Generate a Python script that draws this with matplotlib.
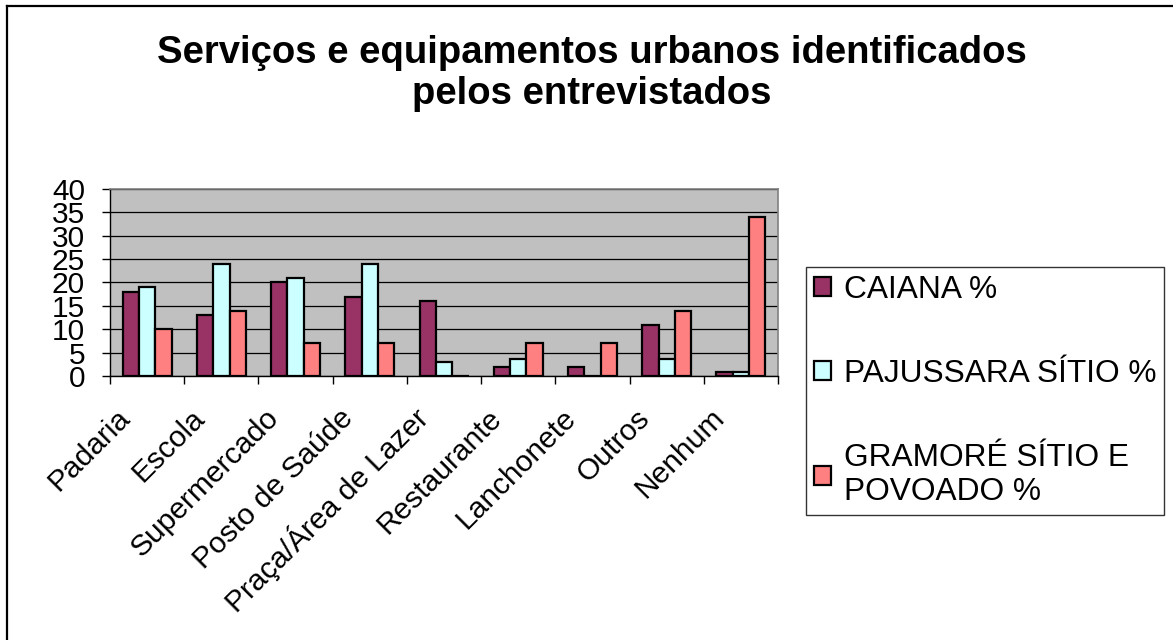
import numpy as np
import matplotlib
matplotlib.use("Agg")
import matplotlib.pyplot as plt
from matplotlib.lines import Line2D
from matplotlib.transforms import ScaledTranslation

plt.rcParams['font.family'] = ['Liberation Sans', 'DejaVu Sans']

categorias = ["Padaria", "Escola", "Supermercado", "Posto de Saúde",
              "Praça/Área de Lazer", "Restaurante", "Lanchonete", "Outros", "Nenhum"]
caiana = [18, 13, 20, 17, 16, 2, 2, 11, 0.8]
pajussara = [19, 24, 21, 24, 3, 3.6, 0, 3.6, 0.8]
gramore = [10, 14, 7, 7, 0, 7, 7, 14, 34]
series = ["CAIANA %", "PAJUSSARA SÍTIO %", "GRAMORÉ SÍTIO E\nPOVOADO %"]
cores = ["#993366", "#CCFFFF", "#FF8080"]
titulo = ["Serviços e equipamentos urbanos identificados", "pelos entrevistados"]

fig = plt.figure(figsize=(11.73, 6.4), dpi=100)
ax = fig.add_axes([0.0938, 0.4125, 0.5695, 0.2922])
ax.set_facecolor("#C0C0C0")

x = np.arange(len(categorias))
w = 0.22
for i, (vals, nome, cor) in enumerate(zip([caiana, pajussara, gramore], series, cores)):
    ax.bar(x + (i - 1) * w, vals, w, color=cor, edgecolor="black",
           linewidth=1.6, label=nome, zorder=3)

ax.set_xlim(-0.5, len(categorias) - 0.5)
ax.set_ylim(0, 40)
ax.set_yticks(range(0, 41, 5))
ax.yaxis.grid(True, color="black", linewidth=0.9, zorder=0)
ax.set_axisbelow(True)
ax.tick_params(axis="y", direction="out", length=6, width=1, pad=12, labelsize=21.5)

# category labels at centres, tick marks between groups
ax.set_xticks(x)
ax.set_xticks(np.arange(-0.5, len(categorias)), minor=True)
ax.tick_params(axis="x", which="major", length=0, pad=27)
ax.tick_params(axis="x", which="minor", direction="out", length=6, width=1)
ax.set_xticklabels(categorias, rotation=45, ha="right", va="center",
                   rotation_mode="anchor", fontsize=21.5)
desloc = ScaledTranslation(-21 / 100, 0, fig.dpi_scale_trans)
for lbl in ax.get_xticklabels():
    lbl.set_transform(lbl.get_transform() + desloc)

for lado in ["top", "right"]:
    ax.spines[lado].set_color("#808080")
    ax.spines[lado].set_linewidth(1.2)
for lado in ["left", "bottom"]:
    ax.spines[lado].set_color("black")
    ax.spines[lado].set_linewidth(1)

leg = ax.legend(loc="upper left", bbox_to_anchor=(0.687, 0.5828),
                bbox_transform=fig.transFigure, fontsize=22.8, frameon=True,
                fancybox=False, handlelength=0.55, handleheight=0.55,
                handletextpad=0.4, labelspacing=1.7, borderpad=0.25,
                borderaxespad=0)
leg.get_frame().set_edgecolor("black")
leg.get_frame().set_linewidth(1)

# title, two centred lines
fig.text(592 / 1173, 1 - 63 / 640, titulo[0], ha="center", va="baseline",
         fontsize=27.5, fontweight="bold")
fig.text(592 / 1173, 1 - 104 / 640, titulo[1], ha="center", va="baseline",
         fontsize=27.5, fontweight="bold")

# outer frame (top and left edges)
fig.add_artist(Line2D([7 / 1173, 7 / 1173], [0, 1 - 6 / 640], color="black", linewidth=1.6))
fig.add_artist(Line2D([7 / 1173, 1], [1 - 6 / 640, 1 - 6 / 640], color="black", linewidth=1.6))

fig.savefig("out.png", dpi=100)
